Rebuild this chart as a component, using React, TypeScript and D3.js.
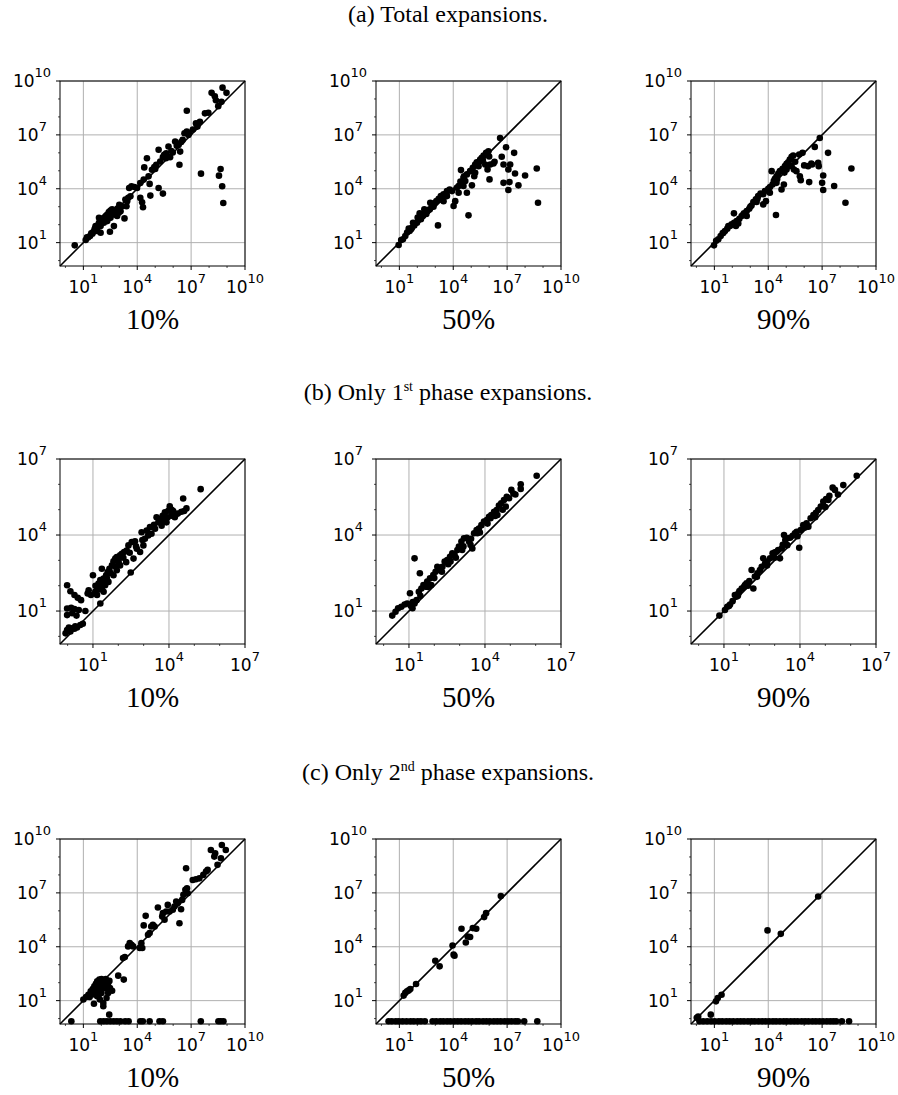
import React from 'react';
import { scaleLog } from 'd3';

// every point is [log10 x, log10 y]
type Pt = [number, number];

const rowTitles = [
  { tag: '(a) Total expansions.', sup: '', rest: '' },
  { tag: '(b) Only 1', sup: 'st', rest: ' phase expansions.' },
  { tag: '(c) Only 2', sup: 'nd', rest: ' phase expansions.' },
];
const panelLabels = ['10%', '50%', '90%'];

const majorA = [1e1, 1e4, 1e7, 1e10];
const minorA = [1e0, 1e2, 1e3, 1e5, 1e6, 1e8, 1e9];
const majorB = [1e1, 1e4, 1e7];
const minorB = [1e0, 1e2, 1e3, 1e5, 1e6];

// y position used for instances with no 2nd phase expansions
const ZERO_ROW = -0.15;

const total10: Pt[] = [
  [0.52, 0.85], [1.13, 1.15], [1.26, 1.28], [1.37, 1.37], [1.44, 1.52], [1.55, 1.59], [1.63, 1.74],
  [1.74, 1.83], [1.81, 1.96], [1.87, 2.11], [1.96, 2.2], [2.05, 2.29], [2.14, 2.38], [2.24, 2.48],
  [2.33, 2.57], [2.42, 2.7], [2.51, 2.79], [2.6, 2.85], [1.77, 1.65], [1.96, 1.92], [2.14, 2.11],
  [2.33, 2.2], [2.51, 2.38], [2.7, 2.57], [2.79, 2.7], [2.88, 2.48], [2.97, 2.66], [3.07, 2.75],
  [2.48, 1.61], [2.7, 1.92], [1.96, 1.55], [1.68, 1.92], [1.87, 2.38], [3.29, 2.35], [3.16, 3.03],
  [3.34, 3.4], [3.44, 3.31], [3.4, 3.03], [3.62, 3.58], [3.55, 4.04], [3.68, 4.14], [3.84, 4.1],
  [3.99, 4.04], [4.17, 3.49], [4.27, 3.25], [4.32, 2.97], [4.17, 4.32], [4.36, 4.51], [4.39, 5.19],
  [4.54, 5.7], [4.69, 4.27], [4.73, 3.62], [4.63, 4.69], [4.82, 5.06], [4.95, 5.21], [5.06, 5.34],
  [5.19, 6.17], [5.19, 4.04], [5.43, 3.73], [5.28, 5.52], [5.43, 5.76], [5.5, 5.89], [5.61, 5.98],
  [5.74, 6.35], [5.83, 5.76], [5.98, 6.02], [6.11, 6.63], [6.2, 6.39], [6.3, 6.44], [6.39, 6.07],
  [6.35, 5.34], [6.53, 6.72], [6.63, 7.09], [6.76, 7.18], [6.85, 7.0], [6.76, 8.34], [7.27, 7.64],
  [7.35, 7.46], [7.49, 7.73], [7.77, 8.2], [7.96, 8.23], [8.14, 9.34], [8.32, 9.15], [8.38, 8.93],
  [8.51, 8.6], [8.75, 9.63], [8.97, 9.34], [8.69, 8.84], [7.55, 4.84], [8.55, 4.73], [8.64, 5.1],
  [8.73, 4.14], [8.79, 3.21], [1.2, 1.3], [1.5, 1.5], [1.65, 1.8], [1.9, 2.0], [2.1, 2.2],
  [2.2, 2.35], [2.45, 2.5], [2.6, 2.6], [2.9, 2.9], [3.0, 3.1], [3.5, 3.5], [5.0, 5.1], [5.6, 5.7],
  [5.9, 6.1], [6.45, 6.6], [6.9, 7.1], [7.1, 7.3],
];

const total50: Pt[] = [
  [0.96, 0.87], [1.2, 1.19], [1.33, 1.37], [1.43, 1.56], [1.57, 1.65], [1.7, 1.83], [1.83, 1.96],
  [1.98, 2.11], [2.13, 2.63], [2.2, 2.3], [2.31, 2.48], [2.44, 2.67], [2.57, 2.76], [2.69, 2.85],
  [2.81, 3.04], [2.94, 3.19], [3.06, 3.31], [3.15, 1.96], [3.19, 3.44], [3.31, 3.59], [3.46, 3.69],
  [3.65, 3.87], [3.8, 3.96], [3.93, 3.87], [4.02, 3.04], [4.11, 3.31], [4.2, 4.06], [4.3, 4.15],
  [4.43, 5.04], [4.48, 4.33], [4.57, 4.61], [4.67, 4.43], [4.76, 4.8], [4.76, 3.78], [4.85, 2.52],
  [4.94, 4.98], [5.04, 4.19], [5.09, 5.17], [5.17, 4.7], [5.22, 5.35], [5.31, 5.48], [5.41, 5.26],
  [5.5, 5.63], [5.59, 5.72], [5.69, 5.85], [5.78, 5.35], [5.83, 6.0], [5.91, 5.07], [5.96, 6.09],
  [6.02, 4.52], [6.06, 5.35], [6.24, 5.41], [6.61, 6.83], [6.7, 5.78], [6.8, 5.35], [6.94, 6.31],
  [7.07, 5.07], [6.8, 4.33], [7.13, 4.37], [7.07, 3.93], [7.17, 5.35], [7.39, 6.0], [7.44, 4.85],
  [7.63, 4.19], [8.0, 4.74], [8.65, 5.13], [8.72, 3.22], [1.52, 1.78], [1.76, 2.11], [2.02, 2.39],
  [2.39, 2.85], [2.72, 3.22], [3.46, 3.31], [3.65, 3.59], [4.3, 3.78], [4.57, 4.15], [5.22, 4.89],
  [1.1, 1.15], [1.65, 1.75], [2.5, 2.6], [2.9, 3.0], [3.3, 3.4], [3.6, 3.7], [4.4, 4.4], [4.6, 4.7],
  [5.0, 5.0], [5.45, 5.5], [5.65, 5.6], [6.0, 5.8], [6.3, 5.5],
];

const total90: Pt[] = [
  [0.98, 0.85], [1.22, 1.19], [1.35, 1.37], [1.46, 1.52], [1.59, 1.65], [1.72, 1.78], [1.87, 1.93],
  [1.96, 2.02], [2.09, 2.63], [2.2, 1.93], [2.24, 2.2], [2.39, 2.33], [2.52, 2.48], [2.65, 2.63],
  [2.8, 2.76], [2.94, 2.89], [3.07, 3.07], [3.17, 3.26], [3.31, 3.41], [3.44, 3.59], [3.57, 3.74],
  [3.72, 3.13], [3.81, 3.87], [3.87, 3.31], [4.0, 4.0], [4.09, 3.78], [4.19, 4.98], [4.24, 4.24],
  [4.31, 4.43], [4.37, 4.56], [4.43, 2.54], [4.46, 4.7], [4.56, 4.85], [4.65, 4.98], [4.74, 3.96],
  [4.8, 5.11], [4.87, 4.24], [4.93, 5.26], [5.02, 5.39], [5.11, 5.48], [5.2, 5.63], [5.3, 5.78],
  [5.39, 5.85], [5.43, 5.07], [5.57, 4.98], [5.72, 5.91], [5.76, 4.7], [5.81, 4.48], [5.91, 6.0],
  [6.22, 5.26], [6.28, 4.37], [6.44, 5.35], [6.59, 6.33], [6.78, 5.44], [6.81, 5.26], [6.87, 6.83],
  [7.33, 6.0], [7.06, 4.74], [7.0, 4.33], [7.06, 3.93], [7.67, 4.15], [8.3, 3.22], [8.63, 5.13],
  [1.78, 1.93], [2.33, 2.07], [2.8, 2.48], [3.35, 3.26], [3.72, 3.69], [4.46, 4.33], [5.02, 5.07],
  [5.3, 5.26], [1.1, 1.1], [1.5, 1.55], [2.1, 2.1], [2.6, 2.55], [3.0, 3.0], [3.4, 3.45],
  [4.1, 4.1], [4.5, 4.55], [4.9, 4.9], [5.2, 5.3], [5.5, 5.5], [6.0, 5.3], [6.4, 5.4],
];

const first10: Pt[] = [
  [-0.08, 0.12], [-0.02, 0.25], [0.05, 0.35], [0.11, 0.19], [0.18, 0.32], [0.27, 0.3], [0.37, 0.35],
  [0.5, 0.45], [-0.02, 2.02], [0.11, 1.78], [0.27, 1.63], [0.4, 1.52], [0.53, 1.43], [-0.02, 1.1],
  [0.14, 1.13], [0.27, 1.08], [0.44, 1.04], [0.7, 1.0], [-0.02, 0.84], [0.18, 0.91], [0.35, 0.82],
  [0.79, 1.69], [0.83, 1.82], [0.92, 1.63], [1.0, 2.41], [1.09, 1.76], [1.16, 1.95], [1.22, 2.08],
  [1.29, 1.3], [1.29, 2.22], [1.35, 2.67], [1.35, 1.89], [1.42, 2.28], [1.48, 2.02], [1.52, 2.41],
  [1.58, 2.54], [1.65, 2.67], [1.75, 2.8], [1.81, 2.96], [1.88, 3.07], [1.94, 3.13], [2.01, 2.93],
  [2.07, 3.2], [2.14, 3.26], [2.23, 3.33], [2.31, 2.93], [2.33, 3.39], [2.4, 3.59], [2.49, 2.52],
  [2.53, 3.72], [2.66, 3.75], [2.86, 3.33], [2.92, 4.11], [2.99, 3.59], [3.05, 3.85], [3.12, 4.18],
  [3.25, 4.31], [3.31, 4.05], [3.41, 4.4], [3.51, 4.7], [3.58, 4.5], [3.64, 4.63], [3.75, 4.76],
  [3.84, 4.9], [3.9, 4.5], [3.97, 4.96], [4.03, 5.13], [4.1, 4.76], [4.16, 4.96], [4.29, 4.83],
  [4.49, 4.92], [4.56, 5.44], [4.69, 5.05], [5.25, 5.81], [1.16, 1.63], [1.42, 1.76], [1.61, 2.15],
  [1.81, 2.41], [1.94, 2.61], [2.07, 2.8], [2.6, 3.07], [2.73, 3.46], [3.18, 3.98], [3.71, 4.37],
  [3.84, 4.63], [4.23, 4.7], [1.1, 2.0], [1.25, 1.85], [1.4, 2.1], [1.55, 2.3], [1.7, 2.5],
  [1.9, 2.75], [2.0, 3.0], [2.2, 3.1], [2.45, 3.3], [2.7, 3.55], [2.95, 3.8], [3.2, 4.05],
  [3.45, 4.25], [3.7, 4.5], [3.95, 4.7], [4.1, 5.0], [4.35, 4.85], [4.6, 4.95], [0.6, 0.5],
  [0.3, 0.4],
];

const first50: Pt[] = [
  [0.34, 0.82], [0.47, 0.97], [0.57, 1.11], [0.7, 1.17], [0.83, 1.26], [0.93, 1.3], [1.04, 1.7],
  [1.07, 1.21], [1.14, 1.11], [1.22, 3.08], [1.22, 1.3], [1.3, 1.43], [1.43, 2.49], [1.39, 1.76],
  [1.49, 1.89], [1.57, 2.03], [1.66, 1.96], [1.72, 2.16], [1.83, 2.29], [1.88, 2.03], [1.96, 2.42],
  [2.05, 2.55], [2.12, 2.75], [2.22, 2.62], [2.32, 2.75], [2.41, 2.95], [2.51, 3.01], [2.62, 3.14],
  [2.71, 3.28], [2.8, 3.21], [2.91, 3.41], [2.97, 3.54], [3.07, 3.74], [3.17, 3.87], [3.28, 3.89],
  [3.37, 3.74], [3.5, 3.47], [3.57, 4.07], [3.67, 4.2], [3.76, 4.26], [3.86, 4.39], [3.96, 4.53],
  [4.07, 4.59], [4.16, 4.72], [4.25, 4.79], [4.36, 4.92], [4.46, 4.99], [4.55, 5.16], [4.64, 5.25],
  [4.75, 5.38], [4.86, 5.51], [4.95, 5.45], [5.04, 5.78], [5.12, 5.64], [5.41, 6.0], [5.41, 5.82],
  [6.04, 6.34], [2.64, 2.95], [3.1, 3.41], [3.43, 3.61], [3.7, 4.07], [4.22, 4.66], [4.49, 4.79],
  [4.82, 5.12], [1.15, 1.35], [1.45, 1.6], [1.75, 1.95], [2.0, 2.3], [2.3, 2.55], [2.55, 2.85],
  [2.85, 3.1], [3.15, 3.55], [3.45, 3.85], [3.8, 4.1], [4.1, 4.45], [4.4, 4.75], [4.7, 5.0],
  [5.2, 5.6],
];

const first90: Pt[] = [
  [0.82, 0.82], [1.04, 1.04], [1.13, 1.17], [1.24, 1.26], [1.34, 1.39], [1.43, 1.63], [1.5, 1.57],
  [1.61, 1.79], [1.7, 1.89], [1.79, 1.96], [1.89, 2.09], [2.0, 2.18], [2.09, 2.62], [2.16, 1.89],
  [2.22, 2.36], [2.32, 2.49], [2.42, 2.62], [2.55, 3.08], [2.62, 2.88], [2.71, 2.95], [2.82, 3.08],
  [2.92, 3.28], [3.01, 3.32], [3.14, 3.41], [3.21, 3.08], [3.32, 3.61], [3.37, 4.0], [3.42, 3.8],
  [3.5, 3.87], [3.61, 3.89], [3.71, 3.97], [3.8, 4.07], [3.97, 3.5], [4.03, 4.2], [4.13, 4.39],
  [4.26, 4.46], [4.33, 4.33], [4.42, 4.66], [4.53, 4.79], [4.63, 4.88], [4.72, 4.99], [4.82, 5.12],
  [4.92, 5.32], [5.03, 5.42], [5.16, 5.55], [5.29, 5.87], [5.38, 5.78], [5.71, 5.97], [6.24, 6.34],
  [1.57, 1.7], [1.83, 2.03], [2.49, 2.75], [3.08, 3.34], [3.28, 3.47], [3.87, 4.13], [4.92, 5.16],
  [5.12, 5.38], [1.2, 1.2], [1.55, 1.6], [1.95, 2.0], [2.3, 2.35], [2.7, 2.8], [3.0, 3.1],
  [3.5, 3.6], [3.9, 3.95], [4.2, 4.3], [4.6, 4.7], [5.0, 5.1], [5.5, 5.6],
];

const second10: Pt[] = [
  [6.72, 8.37], [4.36, 5.19], [4.47, 5.72], [5.15, 6.19], [5.39, 5.69], [5.52, 5.5], [5.43, 5.87],
  [5.61, 5.96], [5.7, 6.33], [5.8, 5.96], [5.98, 6.06], [6.07, 6.24], [6.17, 6.52], [6.26, 6.43],
  [6.35, 5.31], [6.44, 6.09], [6.5, 6.61], [6.57, 6.89], [6.68, 7.17], [6.77, 7.26], [6.81, 6.98],
  [7.09, 7.72], [7.27, 7.76], [7.46, 7.81], [7.68, 8.0], [7.83, 8.19], [7.92, 8.28], [8.1, 9.39],
  [8.34, 9.2], [8.29, 9.02], [8.47, 8.56], [8.71, 9.67], [8.93, 9.39], [8.66, 8.93], [4.78, 5.13],
  [4.87, 5.22], [4.97, 5.13], [4.69, 4.76], [4.6, 4.67], [4.23, 4.2], [4.14, 3.93], [4.28, 3.93],
  [3.77, 4.02], [3.58, 4.2], [3.49, 4.02], [3.68, 4.11], [3.31, 3.43], [3.21, 3.37], [2.94, 2.39],
  [3.25, 2.17], [1.0, 1.06], [1.15, 1.2], [1.28, 1.33], [1.41, 1.52], [1.52, 1.65], [1.61, 1.8],
  [1.7, 1.94], [1.77, 2.07], [1.89, 2.17], [2.01, 2.2], [2.14, 2.07], [2.25, 2.2], [2.38, 1.98],
  [2.48, 1.7], [1.65, 1.43], [1.77, 1.24], [1.92, 1.06], [2.11, 0.87], [2.29, 1.15], [1.59, 0.83],
  [2.11, 0.69], [1.92, 1.61], [2.2, 1.7], [1.83, 1.8], [2.01, 1.43], [2.38, 1.43], [2.14, 1.89],
  [2.44, 0.22], [1.35, 1.2], [1.55, 1.35], [1.7, 1.55], [1.85, 1.3], [2.05, 1.9], [2.3, 1.85],
  [2.45, 2.1], [2.6, 1.55],
];
// log10 x of the instances drawn on the bottom row (no 2nd phase)
const second10Zero = [0.33, 1.94, 2.13, 2.31, 2.5, 2.69, 2.87, 3.06, 3.33, 3.52, 4.17, 4.31, 4.69, 5.24, 5.43, 7.54, 8.52, 8.65, 8.8];

const second50: Pt[] = [
  [1.24, 1.28], [1.33, 1.43], [1.43, 1.52], [1.52, 1.57], [1.61, 1.65], [1.93, 1.93], [3.0, 3.22],
  [3.24, 2.91], [3.96, 4.07], [4.02, 3.56], [4.07, 3.5], [4.46, 5.0], [4.7, 4.24], [4.8, 4.57],
  [4.94, 4.54], [5.09, 5.04], [5.28, 5.0], [5.72, 5.65], [5.83, 5.87], [6.65, 6.83],
];
const second50Zero = [
  0.4, 0.58, 0.8, 0.97, 1.18, 1.4, 1.62, 1.8, 2.02, 2.2, 2.42, 2.85, 3.05, 3.27, 3.45, 3.66, 3.84,
  4.06, 4.25, 4.44, 4.66, 4.85, 5.05, 5.27, 5.44, 5.66, 5.85, 6.04, 6.26, 6.45, 6.64, 6.86, 7.05,
  7.24, 7.45, 7.6, 7.95, 8.68,
];

const second90: Pt[] = [
  [1.09, 0.96], [1.19, 1.15], [1.4, 1.33], [3.96, 4.91], [4.7, 4.72], [6.78, 6.8], [0.02, 0.05],
  [0.1, 0.12], [0.8, 0.22],
];
const second90Zero = [
  0.17, 0.38, 0.6, 0.82, 1.02, 1.25, 1.44, 1.66, 1.85, 2.05, 2.27, 2.46, 2.65, 2.87, 3.06, 3.24,
  3.46, 3.66, 3.85, 4.05, 4.26, 4.44, 4.65, 4.86, 5.04, 5.25, 5.45, 5.64, 5.86, 6.05, 6.24, 6.46,
  6.65, 6.85, 7.05, 7.26, 7.45, 7.62, 7.78, 8.1, 8.5,
];

const withZeros = (pts: Pt[], zeros: number[]): Pt[] =>
  pts.concat(zeros.map((lx) => [lx, ZERO_ROW] as Pt));

const rows = [
  { max: 1e10, major: majorA, minor: minorA, panels: [total10, total50, total90] },
  { max: 1e7, major: majorB, minor: minorB, panels: [first10, first50, first90] },
  {
    max: 1e10, major: majorA, minor: minorA,
    panels: [withZeros(second10, second10Zero), withZeros(second50, second50Zero), withZeros(second90, second90Zero)],
  },
];

const panelLefts = [60, 376, 691];
const rowTops = [81, 459, 839];
const SIZE = 185;
const MIN = 0.5;
const tickFont = "'DejaVu Sans', sans-serif";

function TickLabel({ x, y, v }: { x: number; y: number; v: number }) {
  const e = Math.round(Math.log10(v));
  return (
    <text x={x} y={y} textAnchor="middle" fontFamily={tickFont} fontSize={17} fill="#000">
      10<tspan fontSize={13} dy={-10}>{e}</tspan>
    </text>
  );
}

function Panel({ left, top, max, major, minor, pts, label }: {
  left: number; top: number; max: number; major: number[]; minor: number[]; pts: Pt[]; label: string;
}) {
  const x = scaleLog().domain([MIN, max]).range([left, left + SIZE]);
  const y = scaleLog().domain([MIN, max]).range([top + SIZE, top]);
  const bottom = top + SIZE;
  return (
    <g>
      {major.map((t) => (
        <g key={'g' + t}>
          <line x1={x(t)} x2={x(t)} y1={top} y2={bottom} stroke="#b0b0b0" strokeWidth={1} />
          <line x1={left} x2={left + SIZE} y1={y(t)} y2={y(t)} stroke="#b0b0b0" strokeWidth={1} />
        </g>
      ))}
      <line x1={x(MIN)} y1={y(MIN)} x2={x(max)} y2={y(max)} stroke="#000" strokeWidth={1.6} />
      {pts.map((p, i) => (
        <circle key={i} cx={x(Math.pow(10, p[0]))} cy={y(Math.pow(10, p[1]))} r={3.3} fill="#000" />
      ))}
      <rect x={left} y={top} width={SIZE} height={SIZE} fill="none" stroke="#000" strokeWidth={1} />
      {major.map((t) => (
        <g key={'t' + t}>
          <line x1={x(t)} x2={x(t)} y1={bottom} y2={bottom + 4} stroke="#000" />
          <line x1={left - 4} x2={left} y1={y(t)} y2={y(t)} stroke="#000" />
          <TickLabel x={x(t)} y={bottom + 27} v={t} />
          <TickLabel x={left - 28} y={y(t) + 6} v={t} />
        </g>
      ))}
      {minor.map((t) => (
        <g key={'m' + t}>
          <line x1={x(t)} x2={x(t)} y1={bottom} y2={bottom + 2} stroke="#000" strokeWidth={0.7} />
          <line x1={left - 2} x2={left} y1={y(t)} y2={y(t)} stroke="#000" strokeWidth={0.7} />
        </g>
      ))}
      <text x={left + SIZE / 2} y={bottom + 63} textAnchor="middle"
        fontFamily="'Liberation Serif', serif" fontSize={29}>{label}</text>
    </g>
  );
}

export default function App() {
  return (
    <svg width={898} height={1095} style={{ position: 'absolute', left: 0, top: 0, background: '#fff' }}>
      <rect width={898} height={1095} fill="#fff" />
      {rows.map((row, r) => (
        <g key={r}>
          <text x={448} y={rowTops[r] - 59} textAnchor="middle" fontFamily="'Liberation Serif', serif" fontSize={24}>
            {rowTitles[r].tag}
            {rowTitles[r].sup && <tspan fontSize={14} dy={-9}>{rowTitles[r].sup}</tspan>}
            {rowTitles[r].rest && <tspan dy={9}>{rowTitles[r].rest}</tspan>}
          </text>
          {row.panels.map((pts, c) => (
            <Panel key={c} left={panelLefts[c]} top={rowTops[r]} max={row.max}
              major={row.major} minor={row.minor} pts={pts} label={panelLabels[c]} />
          ))}
        </g>
      ))}
    </svg>
  );
}
